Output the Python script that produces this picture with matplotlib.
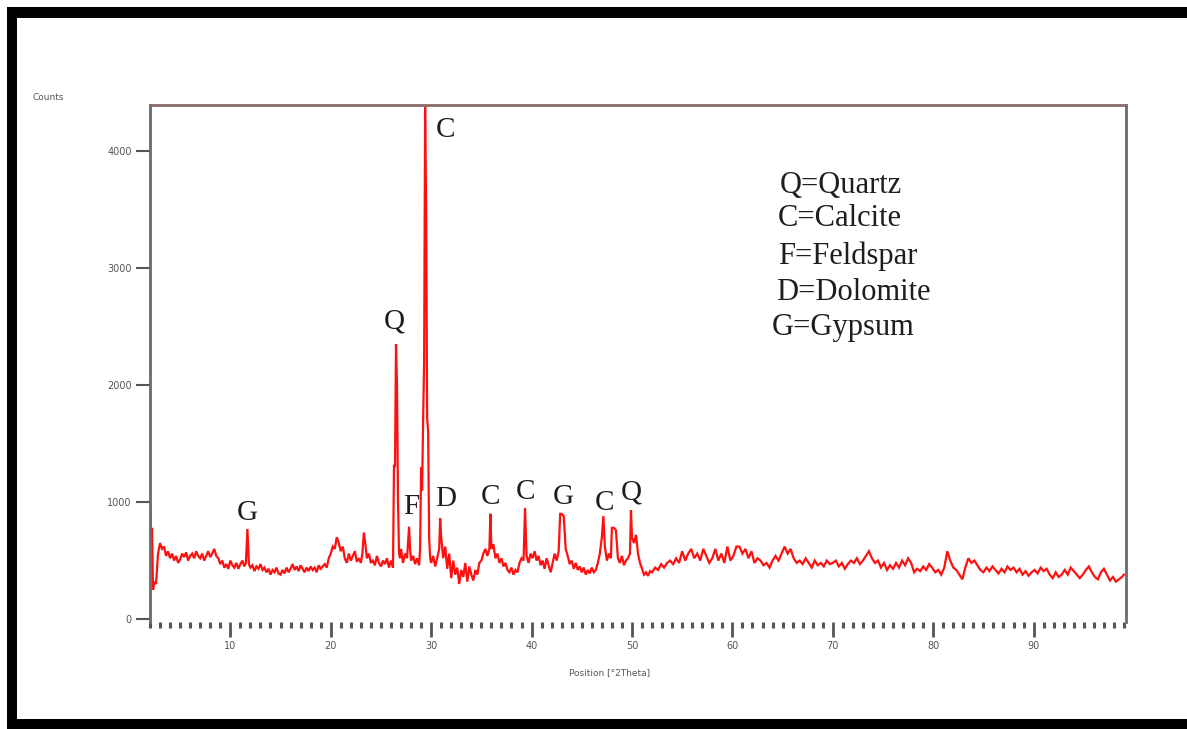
import matplotlib
matplotlib.use("Agg")
import matplotlib.pyplot as plt
from matplotlib.patches import Rectangle
from matplotlib.ticker import MultipleLocator

# ---- data ----
two_theta = [
    1.9, 2.0, 2.1, 2.2, 2.3, 2.45, 2.6, 2.8, 3.0, 3.2, 3.4, 3.6, 3.8, 4.0, 4.2, 4.4, 4.6, 4.8,
    5.0, 5.2, 5.4, 5.6, 5.8, 6.0, 6.2, 6.4, 6.6, 6.8, 7.0, 7.2, 7.4, 7.6, 7.8, 8.0, 8.2, 8.4,
    8.6, 8.8, 9.0, 9.2, 9.4, 9.6, 9.8, 10.0, 10.2, 10.4, 10.6, 10.8, 11.0, 11.2, 11.4, 11.55,
    11.7, 11.85, 12.0, 12.2, 12.4, 12.6, 12.8, 13.0, 13.2, 13.4, 13.6, 13.8, 14.0, 14.2, 14.4,
    14.6, 14.8, 15.0, 15.2, 15.4, 15.6, 15.8, 16.0, 16.2, 16.4, 16.6, 16.8, 17.0, 17.2, 17.4,
    17.6, 17.8, 18.0, 18.2, 18.4, 18.6, 18.8, 19.0, 19.2, 19.4, 19.6, 19.8, 20.0, 20.2, 20.4,
    20.6, 20.8, 21.0, 21.2, 21.4, 21.6, 21.8, 22.0, 22.2, 22.4, 22.6, 22.8, 23.0, 23.15, 23.3,
    23.45, 23.6, 23.8, 24.0, 24.2, 24.4, 24.6, 24.8, 25.0, 25.2, 25.4, 25.6, 25.8, 26.0, 26.2,
    26.3, 26.4, 26.5, 26.6, 26.7, 26.8, 26.9, 27.0, 27.2, 27.4, 27.6, 27.8, 27.9, 28.0, 28.2,
    28.4, 28.6, 28.8, 28.9, 29.0, 29.1, 29.2, 29.3, 29.4, 29.5, 29.6, 29.7, 29.8, 29.9, 30.0,
    30.2, 30.4, 30.6, 30.8, 30.9, 31.0, 31.2, 31.4, 31.6, 31.8, 32.0, 32.2, 32.4, 32.6, 32.8,
    33.0, 33.2, 33.4, 33.6, 33.8, 34.0, 34.2, 34.4, 34.6, 34.8, 35.0, 35.2, 35.4, 35.6, 35.8,
    35.9, 36.0, 36.2, 36.4, 36.6, 36.8, 37.0, 37.2, 37.4, 37.6, 37.8, 38.0, 38.2, 38.4, 38.6,
    38.8, 39.0, 39.2, 39.35, 39.5, 39.7, 39.9, 40.1, 40.3, 40.5, 40.7, 40.9, 41.1, 41.3, 41.5,
    41.7, 41.9, 42.1, 42.3, 42.5, 42.7, 42.85, 43.0, 43.2, 43.4, 43.6, 43.8, 44.0, 44.2, 44.4,
    44.6, 44.8, 45.0, 45.2, 45.4, 45.6, 45.8, 46.0, 46.2, 46.4, 46.6, 46.8, 47.0, 47.15, 47.3,
    47.5, 47.7, 47.9, 48.0, 48.2, 48.4, 48.6, 48.8, 49.0, 49.2, 49.4, 49.6, 49.8, 49.9, 50.0,
    50.2, 50.4, 50.6, 50.8, 51.0, 51.2, 51.4, 51.6, 51.8, 52.0, 52.3, 52.6, 52.9, 53.2, 53.5,
    53.8, 54.1, 54.4, 54.7, 55.0, 55.3, 55.6, 55.9, 56.2, 56.5, 56.8, 57.1, 57.4, 57.7, 58.0,
    58.3, 58.6, 58.9, 59.2, 59.5, 59.8, 60.1, 60.4, 60.7, 61.0, 61.3, 61.6, 61.9, 62.2, 62.5,
    62.8, 63.1, 63.4, 63.7, 64.0, 64.3, 64.6, 64.9, 65.2, 65.5, 65.8, 66.1, 66.4, 66.7, 67.0,
    67.3, 67.6, 67.9, 68.2, 68.5, 68.8, 69.1, 69.4, 69.7, 70.0, 70.3, 70.6, 70.9, 71.2, 71.5,
    71.8, 72.1, 72.4, 72.7, 73.0, 73.3, 73.6, 73.9, 74.2, 74.5, 74.8, 75.1, 75.4, 75.7, 76.0,
    76.3, 76.6, 76.9, 77.2, 77.5, 77.8, 78.1, 78.4, 78.7, 79.0, 79.3, 79.6, 79.9, 80.2, 80.5,
    80.8, 81.1, 81.4, 81.7, 82.0, 82.3, 82.6, 82.9, 83.2, 83.5, 83.8, 84.1, 84.4, 84.7, 85.0,
    85.3, 85.6, 85.9, 86.2, 86.5, 86.8, 87.1, 87.4, 87.7, 88.0, 88.3, 88.6, 88.9, 89.2, 89.5,
    89.8, 90.1, 90.4, 90.7, 91.0, 91.3, 91.6, 91.9, 92.2, 92.5, 92.8, 93.1, 93.4, 93.7, 94.0,
    94.3, 94.6, 94.9, 95.2, 95.5, 95.8, 96.1, 96.4, 96.7, 97.0, 97.3, 97.6, 97.9, 98.2, 98.5,
    98.8, 99.0,
]
counts = [
    80, 1000, 700, 780, 250, 320, 300, 560, 650, 600, 620, 540, 580, 520, 560, 500, 540, 480,
    510, 560, 530, 570, 500, 540, 560, 520, 580, 540, 520, 560, 500, 540, 580, 530, 560, 600,
    540, 520, 470, 500, 440, 470, 430, 500, 460, 440, 480, 430, 470, 500, 450, 480,
    770, 470, 440, 460, 410, 450, 430, 470, 420, 440, 400, 430, 380, 420, 400, 440,
    390, 380, 420, 390, 440, 400, 430, 470, 420, 450, 410, 460, 430, 400, 440,
    410, 450, 420, 440, 400, 460, 430, 450, 470, 440, 520, 560, 620, 600,
    700, 650, 580, 620, 520, 480, 560, 500, 540, 580, 490, 520, 480, 560, 740,
    640, 520, 560, 480, 500, 460, 540, 480, 450, 500, 470, 520, 440, 500, 440,
    1320, 1300, 2350, 2000, 1000, 560, 520, 600, 480, 560, 520, 790, 600, 500, 540,
    470, 520, 460, 600, 1300, 1100, 1700, 2200, 4380, 3500, 1720, 1600, 700, 520, 480,
    540, 450, 520, 600, 860, 700, 520, 620, 430, 560, 350, 500, 380, 440, 300,
    420, 360, 480, 320, 450, 380, 330, 420, 380, 480, 500, 560, 600, 540, 600,
    900, 600, 640, 520, 560, 480, 520, 450, 480, 420, 400, 440, 380, 420, 400,
    480, 520, 500, 950, 540, 480, 560, 520, 580, 500, 540, 460, 500, 430, 520,
    460, 400, 480, 560, 500, 580, 900, 900, 880, 600, 540, 470, 500, 430, 480,
    420, 450, 400, 440, 380, 420, 390, 440, 400, 420, 480, 560, 700, 880, 620,
    500, 560, 520, 780, 780, 760, 520, 480, 540, 460, 500, 520, 560, 930, 700,
    650, 720, 560, 480, 430, 380, 400, 370, 410, 400, 440, 420, 470, 440, 480,
    500, 470, 520, 480, 580, 500, 560, 600, 520, 560, 500, 600, 540, 480, 520,
    600, 500, 560, 480, 620, 500, 540, 620, 620, 560, 600, 520, 580, 480, 520,
    500, 460, 480, 440, 500, 540, 500, 560, 620, 560, 600, 520, 480, 500, 470,
    520, 480, 440, 500, 460, 480, 450, 500, 470, 480, 500, 450, 480, 430, 470,
    500, 480, 520, 470, 500, 540, 580, 520, 480, 500, 440, 480, 420, 460, 430,
    480, 440, 500, 460, 520, 480, 400, 430, 410, 450, 420, 470, 440, 400, 420,
    380, 440, 580, 500, 440, 420, 380, 340, 440, 520, 480, 500, 460, 420, 400,
    440, 410, 450, 420, 390, 430, 400, 450, 420, 440, 400, 430, 380, 410, 370,
    400, 420, 390, 440, 410, 430, 380, 350, 400, 360, 380, 420, 380, 440, 410,
    380, 350, 380, 420, 450, 400, 360, 340, 400, 430, 380, 330, 360, 320, 340,
    360, 380,
]

peak_labels = ["G", "Q", "C", "F", "D", "C", "C", "G", "C", "Q"]
peak_x_txt = [11.7, 26.3, 31.4, 28.0, 31.4, 35.9, 39.4, 43.2, 47.3, 49.95]
peak_h = [906, 2540, 4180, 957, 1025, 1043, 1085, 1043, 990, 1085]

legend_lines = ["Q=Quartz", "C=Calcite", "F=Feldspar", "D=Dolomite", "G=Gypsum"]

y_ticks = [0, 1000, 2000, 3000, 4000]
x_ticks = [10, 20, 30, 40, 50, 60, 70, 80, 90]

# ---- figure ----
W, H = 1187, 729
fig = plt.figure(figsize=(W / 100, H / 100), dpi=100)
fig.patch.set_facecolor("white")

# black picture frame
fig.add_artist(Rectangle((7 / W, 0), 10 / W, 1 - 7 / H, transform=fig.transFigure,
                         facecolor="black", edgecolor="none"))
fig.add_artist(Rectangle((7 / W, 1 - 18 / H), 1 - 7 / W, 11 / H, transform=fig.transFigure,
                         facecolor="black", edgecolor="none"))
fig.add_artist(Rectangle((7 / W, 0), 1 - 7 / W, 10 / H, transform=fig.transFigure,
                         facecolor="black", edgecolor="none"))

left, right, bottom, top = 150 / W, 1126 / W, 1 - 622 / H, 1 - 105 / H
ax = fig.add_axes([left, bottom, right - left, top - bottom])

ax.plot(two_theta, counts, color="#ff1010", linewidth=1.6, solid_joinstyle="miter")

ax.set_xlim(2.0, 99.2)
ax.set_ylim(-25, 4395)

for s in ["left", "right"]:
    ax.spines[s].set_color("#6a6a6a")
    ax.spines[s].set_linewidth(2.0)
ax.spines["top"].set_color("#8a6a6a")
ax.spines["top"].set_linewidth(2.0)
ax.spines["top"].set_linestyle((0, (4, 1)))
ax.spines["bottom"].set_visible(False)

ax.set_xticks(x_ticks)
ax.xaxis.set_minor_locator(MultipleLocator(1))
ax.set_yticks(y_ticks)
ax.tick_params(axis="x", which="major", direction="out", length=11, width=2,
               color="#555555", labelsize=7, labelcolor="#555555", pad=3)
ax.tick_params(axis="x", which="minor", direction="out", length=4, width=2.2,
               color="#555555")
ax.tick_params(axis="y", which="major", direction="out", length=10, width=1.5,
               color="#555555", labelsize=7, labelcolor="#555555", pad=3)

fig.text(48 / W, 1 - 97 / H, "Counts", fontsize=6.5, color="#555555",
         ha="center", va="center")
fig.text(610 / W, 1 - 673 / H, "Position [°2Theta]", fontsize=6.5, color="#555555",
         ha="center", va="center")

serif = ["Liberation Serif", "DejaVu Serif"]
for lab, xp, yp in zip(peak_labels, peak_x_txt, peak_h):
    ax.text(xp, yp, lab, fontsize=21, family=serif, color="#1e1e1e",
            ha="center", va="center")

leg_y = [185, 218, 256, 293, 327]
leg_x = [780, 778, 778, 776, 772]
for t, lx, ly in zip(legend_lines, leg_x, leg_y):
    fig.text(lx / W, 1 - ly / H, t, fontsize=22, family=serif, color="#1e1e1e",
             ha="left", va="center")

fig.savefig("out.png", dpi=100, facecolor="white")
